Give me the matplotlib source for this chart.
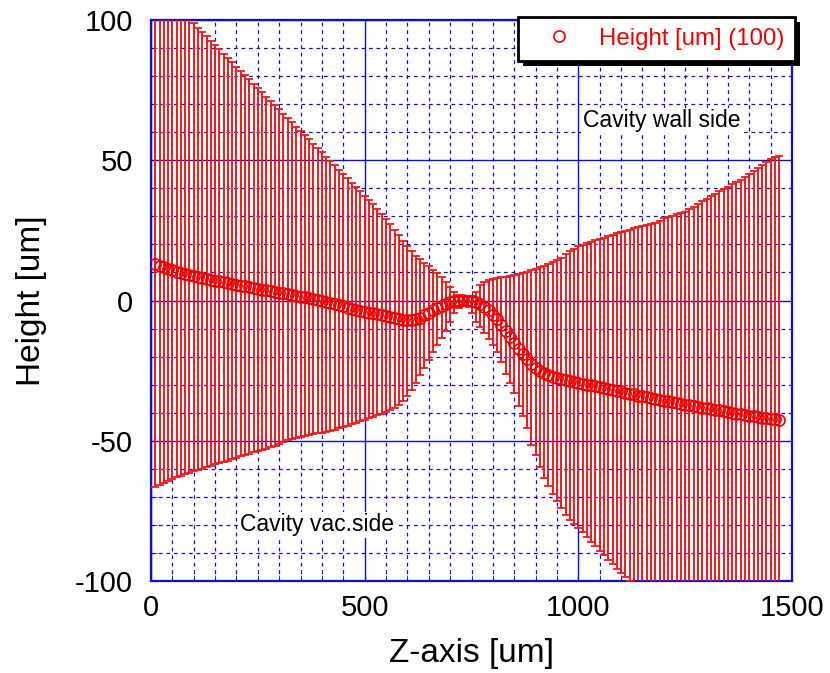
import matplotlib
matplotlib.use("Agg")
import matplotlib.pyplot as plt
from matplotlib.patches import Rectangle
from matplotlib.transforms import IdentityTransform
import numpy as np

plt.rcParams['font.family'] = ['Liberation Sans', 'DejaVu Sans']
plt.rcParams['axes.unicode_minus'] = False

# z positions [um]
z = [10, 20, 30, 40, 50, 60, 70, 80, 90, 100, 110, 120, 130, 140, 150,
     160, 170, 180, 190, 200, 210, 220, 230, 240, 250, 260, 270, 280, 290, 300,
     310, 320, 330, 340, 350, 360, 370, 380, 390, 400, 410, 420, 430, 440, 450,
     460, 470, 480, 490, 500, 510, 520, 530, 540, 550, 560, 570, 580, 590, 600,
     610, 620, 630, 640, 650, 660, 670, 680, 690, 700, 710, 720, 730, 740, 750,
     760, 770, 780, 790, 800, 810, 820, 830, 840, 850, 860, 870, 880, 890, 900,
     910, 920, 930, 940, 950, 960, 970, 980, 990, 1000, 1010, 1020, 1030, 1040, 1050,
     1060, 1070, 1080, 1090, 1100, 1110, 1120, 1130, 1140, 1150, 1160, 1170, 1180, 1190, 1200,
     1210, 1220, 1230, 1240, 1250, 1260, 1270, 1280, 1290, 1300, 1310, 1320, 1330, 1340, 1350,
     1360, 1370, 1380, 1390, 1400, 1410, 1420, 1430, 1440, 1450, 1460, 1470]

# measured height [um]
height = [13.0, 12.4, 11.8, 11.3, 10.8, 10.3, 9.8, 9.4, 9.0, 8.6, 8.3, 8.0, 7.7, 7.4, 7.1,
          6.8, 6.5, 6.2, 5.9, 5.6, 5.3, 5.0, 4.7, 4.4, 4.1, 3.8, 3.6, 3.3, 3.0, 2.8,
          2.5, 2.2, 2.0, 1.7, 1.4, 1.1, 0.8, 0.5, 0.2, -0.2, -0.5, -0.9, -1.3, -1.7, -2.1,
          -2.5, -2.9, -3.3, -3.6, -4.0, -4.3, -4.6, -4.9, -5.2, -5.5, -5.9, -6.2, -6.5, -6.8, -7.0,
          -7.0, -6.7, -6.1, -5.3, -4.4, -3.5, -2.6, -1.8, -1.1, -0.6, -0.2, 0.0, 0.1, 0.0, -0.2,
          -0.6, -1.3, -2.2, -3.4, -5.0, -6.7, -8.6, -10.7, -12.9, -15.1, -17.2, -19.2, -21.0, -22.6, -24.0,
          -25.1, -26.0, -26.7, -27.2, -27.6, -28.0, -28.4, -28.8, -29.1, -29.4, -29.7, -30.0, -30.3, -30.6, -30.9,
          -31.2, -31.5, -31.8, -32.1, -32.4, -32.8, -33.2, -33.5, -33.9, -34.2, -34.5, -34.8, -35.1, -35.4, -35.7,
          -36.0, -36.3, -36.6, -36.9, -37.2, -37.4, -37.7, -37.9, -38.2, -38.4, -38.6, -38.9, -39.1, -39.4, -39.7,
          -40.0, -40.3, -40.6, -40.9, -41.1, -41.3, -41.6, -41.8, -42.0, -42.2, -42.4, -42.6]

# upper end of error bars
upper = [113.0, 111.5, 110.0, 108.5, 106.5, 105.0, 103.5, 102.0, 100.3, 98.8, 97.2, 95.7, 94.2, 92.6, 91.1,
         89.6, 88.0, 86.5, 85.0, 83.4, 81.9, 80.4, 78.8, 77.3, 75.8, 74.2, 72.7, 71.2, 69.6, 68.1,
         66.6, 65.0, 63.5, 62.0, 60.4, 58.9, 57.4, 55.8, 54.3, 52.8, 51.2, 49.7, 48.2, 46.6, 45.1,
         43.6, 42.0, 40.5, 39.0, 37.4, 35.9, 34.3, 32.6, 30.8, 29.0, 27.2, 25.2, 23.2, 21.2, 19.4,
         17.7, 16.0, 14.7, 13.4, 12.2, 11.0, 9.7, 8.3, 6.6, 4.8, 3.2, 1.9, 1.3, 1.2, 1.6,
         3.0, 5.4, 6.6, 7.2, 7.6, 7.9, 8.2, 8.5, 8.8, 9.1, 9.5, 9.9, 10.3, 10.8, 11.3,
         11.8, 12.3, 12.9, 13.6, 14.4, 15.3, 16.4, 17.5, 18.5, 19.4, 19.9, 20.4, 20.9, 21.4, 21.9,
         22.4, 22.9, 23.4, 23.9, 24.4, 24.8, 25.2, 25.7, 26.2, 26.6, 27.0, 27.4, 27.8, 28.2, 29.5,
         29.9, 30.3, 30.7, 31.1, 31.6, 32.5, 33.5, 34.5, 35.5, 36.3, 37.1, 38.0, 39.0, 39.8, 40.6,
         41.4, 42.2, 43.0, 44.0, 45.2, 46.2, 47.3, 48.3, 49.4, 50.3, 51.0, 51.4]

# lower end of error bars
lower = [-66.5, -65.8, -65.1, -64.4, -63.8, -63.1, -62.4, -61.9, -61.4, -60.9, -60.4, -59.9, -59.4, -58.9, -58.4,
         -58.0, -57.6, -57.1, -56.6, -56.1, -55.6, -55.1, -54.6, -54.1, -53.7, -53.3, -52.8, -52.3, -51.7, -51.1,
         -50.4, -49.8, -49.3, -48.9, -48.6, -48.3, -48.0, -47.7, -47.4, -47.1, -46.8, -46.4, -46.0, -45.6, -45.1,
         -44.6, -44.0, -43.5, -43.0, -42.5, -42.0, -41.5, -40.9, -40.3, -39.7, -39.0, -38.2, -37.2, -36.0, -34.0,
         -31.8, -29.3, -26.6, -23.9, -21.1, -18.4, -15.8, -13.4, -10.9, -7.6, -4.6, -2.6, -1.6, -1.8, -4.5,
         -7.5, -9.3, -11.5, -13.8, -16.0, -18.2, -22.0, -26.2, -29.5, -33.0, -37.5, -41.2, -45.5, -51.5, -55.2,
         -59.5, -63.2, -66.1, -69.0, -71.4, -74.0, -76.4, -78.2, -79.8, -81.0, -82.6, -84.3, -86.0, -87.6, -89.2,
         -90.8, -92.5, -94.1, -95.7, -97.2, -98.6, -99.9, -101.4, -102.9, -104.4, -105.9, -107.4, -108.9, -110.4, -111.9,
         -113.4, -114.9, -116.4, -117.9, -119.4, -120.9, -122.4, -123.9, -125.4, -126.9, -128.4, -129.9, -131.4, -132.9, -134.4,
         -135.9, -137.4, -138.9, -140.4, -141.9, -143.4, -144.9, -146.4, -147.9, -149.4, -150.9, -152.4]

z = np.array(z)
height = np.array(height)
upper = np.array(upper)
lower = np.array(lower)

blue = '#1010cc'
red = '#ee0000'

fig = plt.figure(figsize=(8.3, 6.73), dpi=100)
ax = fig.add_axes([151/830, 1 - 581/673, (792 - 151)/830, (581 - 20)/673])

ax.errorbar(z, height, yerr=[height - lower, upper - height], fmt='none',
            ecolor='#ee1a1a', elinewidth=1.4, capsize=2.8, capthick=1.3, zorder=3)
ax.plot(z, height, 'o', mfc='none', mec=red, ms=8, mew=1.2, zorder=4,
        label='Height [um] (100)')

ax.set_xlim(0, 1500)
ax.set_ylim(-100, 100)
ax.set_xticks([0, 500, 1000, 1500])
ax.set_yticks([-100, -50, 0, 50, 100])
ax.set_xticks(np.arange(0, 1501, 50), minor=True)
ax.set_yticks(np.arange(-100, 101, 10), minor=True)

ax.grid(which='major', color=blue, lw=1.0, ls='-')
ax.grid(which='minor', color=blue, lw=0.9, ls=(0, (3, 3)))
ax.set_axisbelow(True)

for s in ax.spines.values():
    s.set_color(blue)
    s.set_linewidth(1.6)

ax.tick_params(which='both', direction='in', color=blue, length=4, labelsize=21)
ax.tick_params(axis='x', pad=9)
ax.tick_params(axis='y', pad=13)

ax.set_xlabel('Z-axis [um]', fontsize=24, labelpad=12)
ax.set_ylabel('Height [um]', fontsize=24, labelpad=20)

ax.text(1010, 64, 'Cavity wall side', fontsize=16.5, va='center', ha='left',
        bbox=dict(facecolor='white', edgecolor='none', pad=1), zorder=5)
ax.text(209, -80, 'Cavity vac.side', fontsize=16.5, va='center', ha='left',
        bbox=dict(facecolor='white', edgecolor='none', pad=1), zorder=5)

leg = ax.legend(loc='upper right', bbox_to_anchor=(795/830, 1 - 17/673),
                bbox_transform=fig.transFigure, borderaxespad=0,
                fontsize=17.3, frameon=True, fancybox=False, handlelength=2.5,
                handletextpad=0.4, borderpad=0.45)
leg.get_frame().set_edgecolor('black')
leg.get_frame().set_linewidth(2)
leg.get_frame().set_alpha(1)
for t in leg.get_texts():
    t.set_color(red)
leg.set_zorder(10)

# black drop shadow behind legend box
fig.canvas.draw()
bb = leg.get_window_extent()
shadow = Rectangle((bb.x0 + 5, bb.y0 - 5), bb.width, bb.height,
                   transform=IdentityTransform(), facecolor='black',
                   edgecolor='none', zorder=9, clip_on=False)
ax.add_artist(shadow)

fig.savefig('out.png', dpi=100)
